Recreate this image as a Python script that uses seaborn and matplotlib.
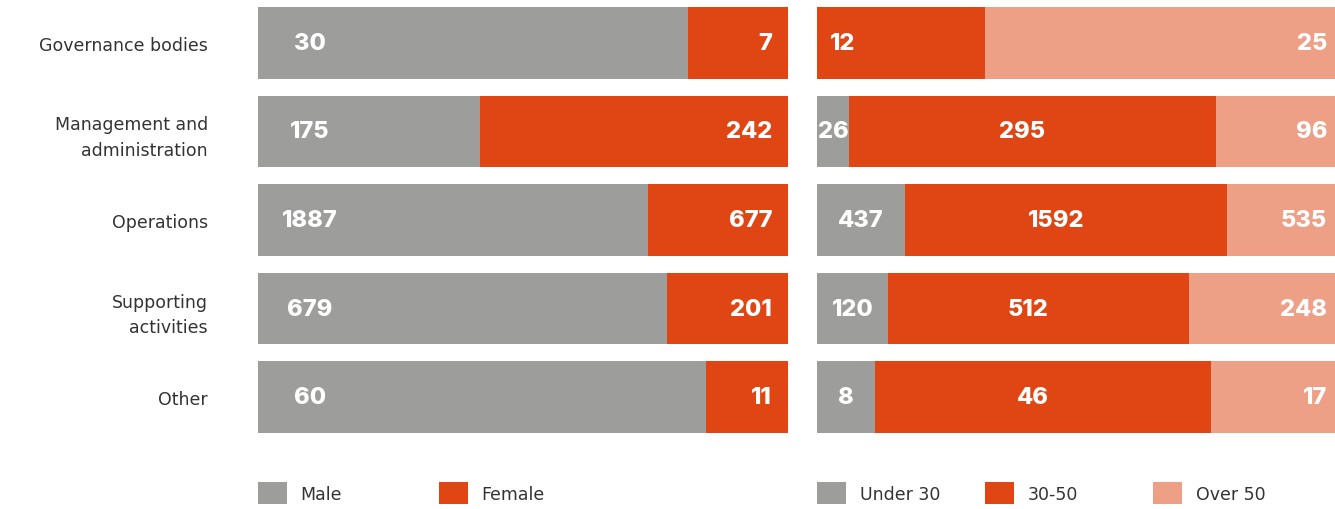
import matplotlib
matplotlib.use("Agg")
import matplotlib.pyplot as plt
from matplotlib.patches import Patch
import numpy as np
import pandas as pd
import seaborn as sns

# Workforce by job category: split by gender and by age group
categories = ["Governance bodies", "Management and\nadministration", "Operations",
              "Supporting\nactivities", "Other"]
male = [30, 175, 1887, 679, 60]
female = [7, 242, 677, 201, 11]
under_30 = [0, 26, 437, 120, 8]
age_30_50 = [12, 295, 1592, 512, 46]
over_50 = [25, 96, 535, 248, 17]

GREY = "#9d9d9b"
RED = "#e04614"
SALMON = "#eea087"
TEXT = "#333333"

sns.set_theme(style="white")
plt.rcParams["font.family"] = ["DejaVu Sans"]

W, H = 1335, 510
fig = plt.figure(figsize=(W / 100, H / 100), dpi=100)
fig.patch.set_facecolor("white")

def px_axes(x0, x1, y0, y1):
    return fig.add_axes([x0 / W, 1 - y1 / H, (x1 - x0) / W, (y1 - y0) / H])

ax_g = px_axes(258, 788, 8, 434)
ax_a = px_axes(817, 1335, 8, 434)

BAR_H = 0.81


def stacked(ax, series, colors):
    arr = np.array(series, dtype=float)
    shares = arr / arr.sum(axis=0)
    cum = np.cumsum(shares, axis=0)
    # draw cumulative totals from the outermost segment inwards
    for i in range(len(series) - 1, -1, -1):
        df = pd.DataFrame({"cat": categories, "x": cum[i]})
        sns.barplot(data=df, y="cat", x="x", color=colors[i], width=BAR_H,
                    linewidth=0, saturation=1, ax=ax, orient="h")
    ax.set_xlim(0, 1)
    ax.set_ylim(len(categories) - 1 + BAR_H / 2, -BAR_H / 2)
    ax.set_xlabel("")
    ax.set_ylabel("")
    ax.set_xticks([])
    for s in ax.spines.values():
        s.set_visible(False)
    return shares, cum


num_font = dict(color="white", fontsize=17, fontweight="heavy",
                family=["Inter", "DejaVu Sans"], va="center")

# Gender panel
g_sh, g_cum = stacked(ax_g, [male, female], [GREY, RED])
for j in range(len(categories)):
    ax_g.text(0.098, j, f"{male[j]}", ha="center", **num_font)
    ax_g.text(0.97, j, f"{female[j]}", ha="right", **num_font)

ax_g.set_yticks(range(len(categories)))
ax_g.set_yticklabels(categories, fontsize=12.5, color=TEXT, linespacing=1.55)
ax_g.tick_params(axis="y", length=0, pad=36)

# Age panel
a_sh, a_cum = stacked(ax_a, [under_30, age_30_50, over_50], [GREY, RED, SALMON])
for j in range(len(categories)):
    if under_30[j] > 0:
        ax_a.text(a_cum[0][j] / 2, j, f"{under_30[j]}", ha="center", **num_font)
        ax_a.text((a_cum[0][j] + a_cum[1][j]) / 2 - 0.02, j, f"{age_30_50[j]}",
                  ha="center", **num_font)
    else:
        ax_a.text(0.025, j, f"{age_30_50[j]}", ha="left", **num_font)
    ax_a.text(0.985, j, f"{over_50[j]}", ha="right", **num_font)
ax_a.set_yticks([])

# Legends: one entry per square, anchored below each panel
def legend_entry(x_px, label, color):
    leg = fig.legend(handles=[Patch(facecolor=color, edgecolor="none", label=label)],
                     loc="center left", bbox_to_anchor=(x_px / W, 1 - 494 / H),
                     frameon=False, fontsize=12.5, handlelength=1.65,
                     handleheight=1.6, handletextpad=0.8, borderpad=0,
                     borderaxespad=0)
    for t in leg.get_texts():
        t.set_color(TEXT)

for x_px, lab, col in [(258, "Male", GREY), (439, "Female", RED),
                       (817, "Under 30", GREY), (985, "30-50", RED),
                       (1153, "Over 50", SALMON)]:
    legend_entry(x_px, lab, col)

fig.savefig("out.png", dpi=100, facecolor="white")
